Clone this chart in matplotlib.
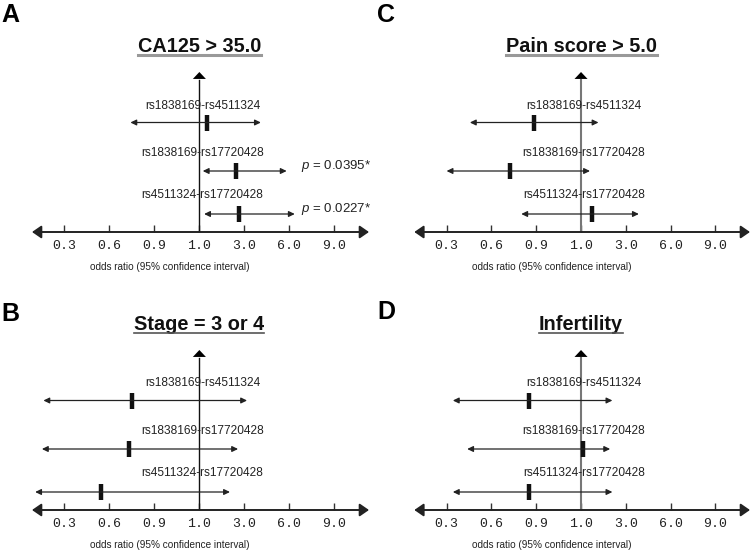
import numpy as np
import matplotlib.pyplot as plt
from matplotlib.lines import Line2D

plt.rcParams['font.family'] = ['Liberation Sans', 'DejaVu Sans']
plt.rcParams['mathtext.fontset'] = 'custom'
plt.rcParams['mathtext.it'] = 'Liberation Sans:italic'
plt.rcParams['mathtext.rm'] = 'Liberation Sans'

# data
pairs = ['rs1838169-rs4511324', 'rs1838169-rs17720428', 'rs4511324-rs17720428']
tick_vals = [0.3, 0.6, 0.9, 1.0, 3.0, 6.0, 9.0]
tick_labels = ['0.3', '0.6', '0.9', '1.0', '3.0', '6.0', '9.0']

ca125_or = [1.36, 2.62, 2.78]
ca125_lo = [0.74, 1.15, 1.21]
ca125_hi = [4.1, 5.82, 6.36]
ca125_p = [None, '0.0395*', '0.0227*']

stage_or = [0.75, 0.733, 0.545]
stage_lo = [0.16, 0.15, 0.105]
stage_hi = [3.18, 2.72, 2.36]

pain_or = [0.882, 0.723, 1.5]
pain_lo = [0.456, 0.30, 0.80]
pain_hi = [1.78, 1.4, 3.87]

infert_or = [0.851, 1.08, 0.851]
infert_lo = [0.342, 0.438, 0.342]
infert_hi = [2.4, 2.3, 2.4]

# the axis puts the labelled values at equal steps
scale_vals = [0.0] + tick_vals + [12.0]
scale_pos = np.arange(-1, len(tick_vals) + 1)


def fwd(v):
    return np.interp(v, scale_vals, scale_pos)


def inv(p):
    return np.interp(p, scale_pos, scale_vals)


W, H = 751, 553
fig = plt.figure(figsize=(W / 100, H / 100), dpi=100)

row_y = [109.5, 61, 18]
label_y = [126.5, 78.5, 37]


def draw_panel(left, right, axis_y, letter, lx, ly, title, ors, los, his, pvals,
               vcolor, vlw, ucolor, ulw):
    ax = fig.add_axes([left / W, (H - axis_y) / H, (right - left) / W, 170 / H])
    ax.set_xscale('function', functions=(fwd, inv))
    ax.set_xlim(inv(-0.72), inv(6.77))
    ax.set_ylim(0, 170)
    for s in ax.spines.values():
        s.set_visible(False)
    ax.set_yticks([])
    ax.set_xticks(tick_vals)
    ax.set_xticklabels(tick_labels, fontfamily='Liberation Mono', fontsize=9.5,
                       color='#222')
    ax.tick_params(axis='x', direction='in', length=5, width=1, color='#333', pad=6)
    ax.minorticks_off()

    # x axis with arrows
    ax.annotate('', xy=(1, 0), xytext=(0, 0), xycoords='axes fraction',
                arrowprops=dict(arrowstyle='<|-|>,head_length=0.55,head_width=0.38',
                                mutation_scale=10, color='#222', lw=1.4,
                                shrinkA=0, shrinkB=0))
    # reference line at 1.0
    ax.plot([1.0, 1.0], [0, 152], color=vcolor, lw=vlw)
    ax.annotate('', xy=(1.0, 160), xytext=(1.0, 150),
                arrowprops=dict(arrowstyle='-|>,head_length=0.5,head_width=0.47',
                                mutation_scale=10, color='black', lw=0,
                                shrinkA=0, shrinkB=0))

    for i in range(len(pairs)):
        ax.annotate('', xy=(his[i], row_y[i]), xytext=(los[i], row_y[i]),
                    arrowprops=dict(arrowstyle='<|-|>,head_length=0.35,head_width=0.17',
                                    mutation_scale=10, color='#222', lw=0.9,
                                    shrinkA=0, shrinkB=0))
        ax.plot([ors[i]], [row_y[i]], marker='|', markersize=12, mew=3.2,
                color='#111')
        ax.annotate(pairs[i], (1.0, label_y[i]), xytext=(3, 0),
                    textcoords='offset pixels', ha='center', va='center',
                    fontsize=8.6, color='#222')
        if pvals[i]:
            ax.text(1.008, row_y[i] + 5, '$p$ = ' + pvals[i],
                    transform=ax.get_yaxis_transform(), ha='right', va='center',
                    fontsize=9.5, color='#222')

    ax.text(0.41, -34.5, 'odds ratio (95% confidence interval)',
            transform=ax.get_yaxis_transform(), ha='center', va='center',
            fontsize=7.2, color='#222')

    t = ax.text(1.0, 180, title, ha='center', va='baseline', fontsize=14.3,
                fontweight='bold', color='#111')
    fig.canvas.draw()
    bb = t.get_window_extent().transformed(fig.transFigure.inverted())
    uy = (H - axis_y + 177) / H
    fig.add_artist(Line2D([bb.x0, bb.x1], [uy, uy], color=ucolor, lw=ulw,
                          transform=fig.transFigure))

    fig.text(lx / W, 1 - ly / H, letter, ha='left', va='top', fontsize=18,
             fontweight='bold')


draw_panel(32, 369, 232, 'A', 1, 3, 'CA125 > 35.0', ca125_or, ca125_lo, ca125_hi,
           ca125_p, '#111', 1.0, '#999', 2.2)
draw_panel(32, 369, 510, 'B', 1, 302, 'Stage = 3 or 4', stage_or, stage_lo, stage_hi,
           [None, None, None], '#111', 1.0, '#555', 1.2)
draw_panel(414.3, 750, 232, 'C', 377, 3, 'Pain score > 5.0', pain_or, pain_lo, pain_hi,
           [None, None, None], '#777', 1.5, '#999', 2.2)
draw_panel(414.3, 750, 510, 'D', 377, 300, 'Infertility', infert_or, infert_lo, infert_hi,
           [None, None, None], '#777', 1.5, '#555', 1.2)

fig.savefig('out.png', dpi=100)
